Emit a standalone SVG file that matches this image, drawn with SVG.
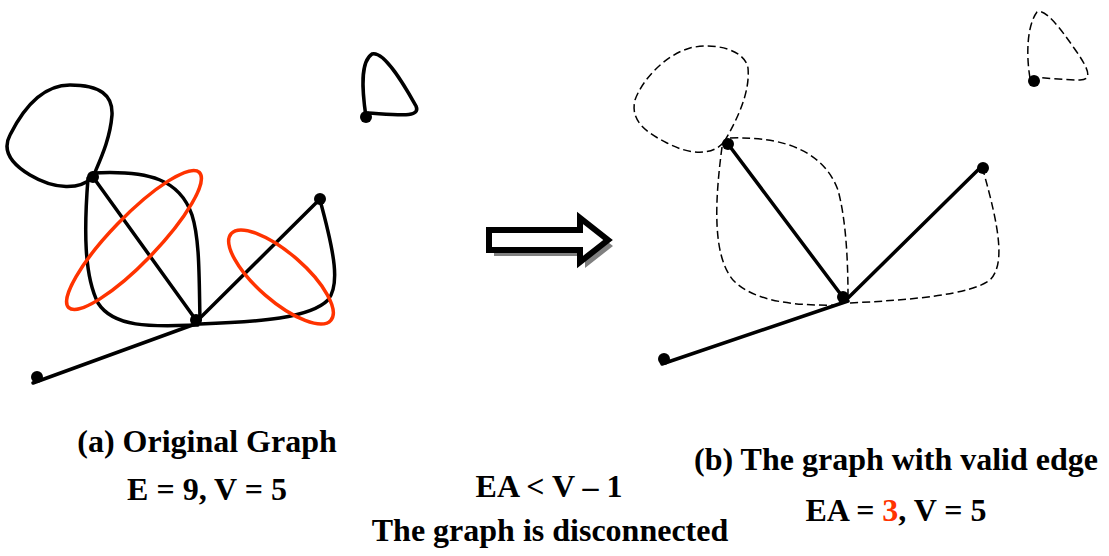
<svg xmlns="http://www.w3.org/2000/svg" width="1109" height="556" viewBox="0 0 1109 556">
<style>
.e{fill:none;stroke:#000;stroke-width:3.5;stroke-linecap:round;stroke-linejoin:round}
.d{fill:none;stroke:#000;stroke-width:1.5;stroke-dasharray:8 4}
.r{fill:none;stroke:#FF3300;stroke-width:3.5}
.n{fill:#000}
.t{font-family:"Liberation Serif","Times New Roman",serif;font-weight:bold;font-size:32px;text-anchor:middle;fill:#000}
</style>
<rect width="1109" height="556" fill="#fff"/>
<g id="left-connectors">
<path class="e" d="M93,177 C 80,190 55,190 30,175 C 10,163 2,150 10,135 C 25,105 45,85 70,85 C 100,85 113,95 112,115 C 110,140 100,160 93,177 Z"/>
<path class="e" d="M93,173 C 150,170 180,180 192,215 C 200,240 199,280 200,320"/>
<path class="e" d="M88,178 C 84,230 84,275 98,303 C 115,330 160,326 198,325"/>
<path class="e" d="M200,324 C 260,322 310,318 328,300 C 340,285 335,255 320,200"/>
<line class="e" x1="93" y1="177" x2="196" y2="320"/>
<line class="e" x1="196" y1="322" x2="320" y2="199"/>
<line class="e" x1="198" y1="323" x2="33" y2="383"/>
<path class="e" d="M366,117 C 362,90 360,62 372,54 C 385,50 408,92 416,106 C 421,118 400,115 368,113"/>
<ellipse class="r" cx="134" cy="240" rx="94" ry="23" transform="rotate(-46 134 240)"/>
<ellipse class="r" cx="281" cy="277" rx="66" ry="24" transform="rotate(41 281 277)"/>
</g>
<g id="left-nodes">
<circle id="nA" class="n" cx="93" cy="177" r="6"/>
<circle id="nB" class="n" cx="196" cy="320" r="6"/>
<circle id="nC" class="n" cx="320" cy="199" r="6"/>
<circle id="nD" class="n" cx="37" cy="377" r="6"/>
<circle id="nE" class="n" cx="366" cy="117" r="6"/>
</g>
<g id="arrow">
<polygon points="494,236 585,236 585,224 613,246 585,268 585,256 494,256" fill="#808080"/>
<polygon points="489,230 580,230 580,218 608,240 580,262 580,250 489,250" fill="#fff" stroke="#000" stroke-width="6" stroke-linejoin="miter"/>
</g>
<g id="right-connectors">
<path class="d" d="M724,142 C 712,156 690,155 667,143 C 645,132 630,120 635,100 C 642,80 665,55 690,48 C 715,42 745,50 748,68 C 750,90 740,115 724,142"/>
<path class="d" d="M730,138 C 790,136 825,155 838,190 C 846,220 848,260 848,297"/>
<path class="d" d="M722,147 C 715,200 712,255 733,280 C 755,303 800,306 840,305"/>
<path class="d" d="M850,303 C 910,300 970,295 990,280 C 1005,265 1000,230 983,170"/>
<path class="d" d="M1030,78 C 1026,55 1027,25 1037,12 C 1045,8 1060,28 1074,48 C 1086,65 1095,80 1080,80 C 1065,80 1045,78 1034,77"/>
<line class="e" x1="728" y1="144" x2="845" y2="300"/>
<line class="e" x1="846" y1="300" x2="982" y2="166"/>
<line class="e" x1="848" y1="301" x2="662" y2="364"/>
</g>
<g id="right-nodes">
<circle class="n" cx="728" cy="144" r="6"/>
<circle class="n" cx="843" cy="297" r="6"/>
<circle class="n" cx="983" cy="168" r="6"/>
<circle class="n" cx="664" cy="359" r="6"/>
<circle class="n" cx="1034" cy="81" r="6"/>
</g>
<g id="labels">
<text class="t" x="207" y="452">(a) Original Graph</text>
<text class="t" x="207" y="500">E = 9, V = 5</text>
<text class="t" x="549" y="497">EA &lt; V – 1</text>
<text class="t" x="550" y="541">The graph is disconnected</text>
<text class="t" x="896" y="470">(b) The graph with valid edge</text>
<text class="t" x="896" y="521">EA = <tspan fill="#FF3300">3</tspan>, V = 5</text>
</g>
</svg>
